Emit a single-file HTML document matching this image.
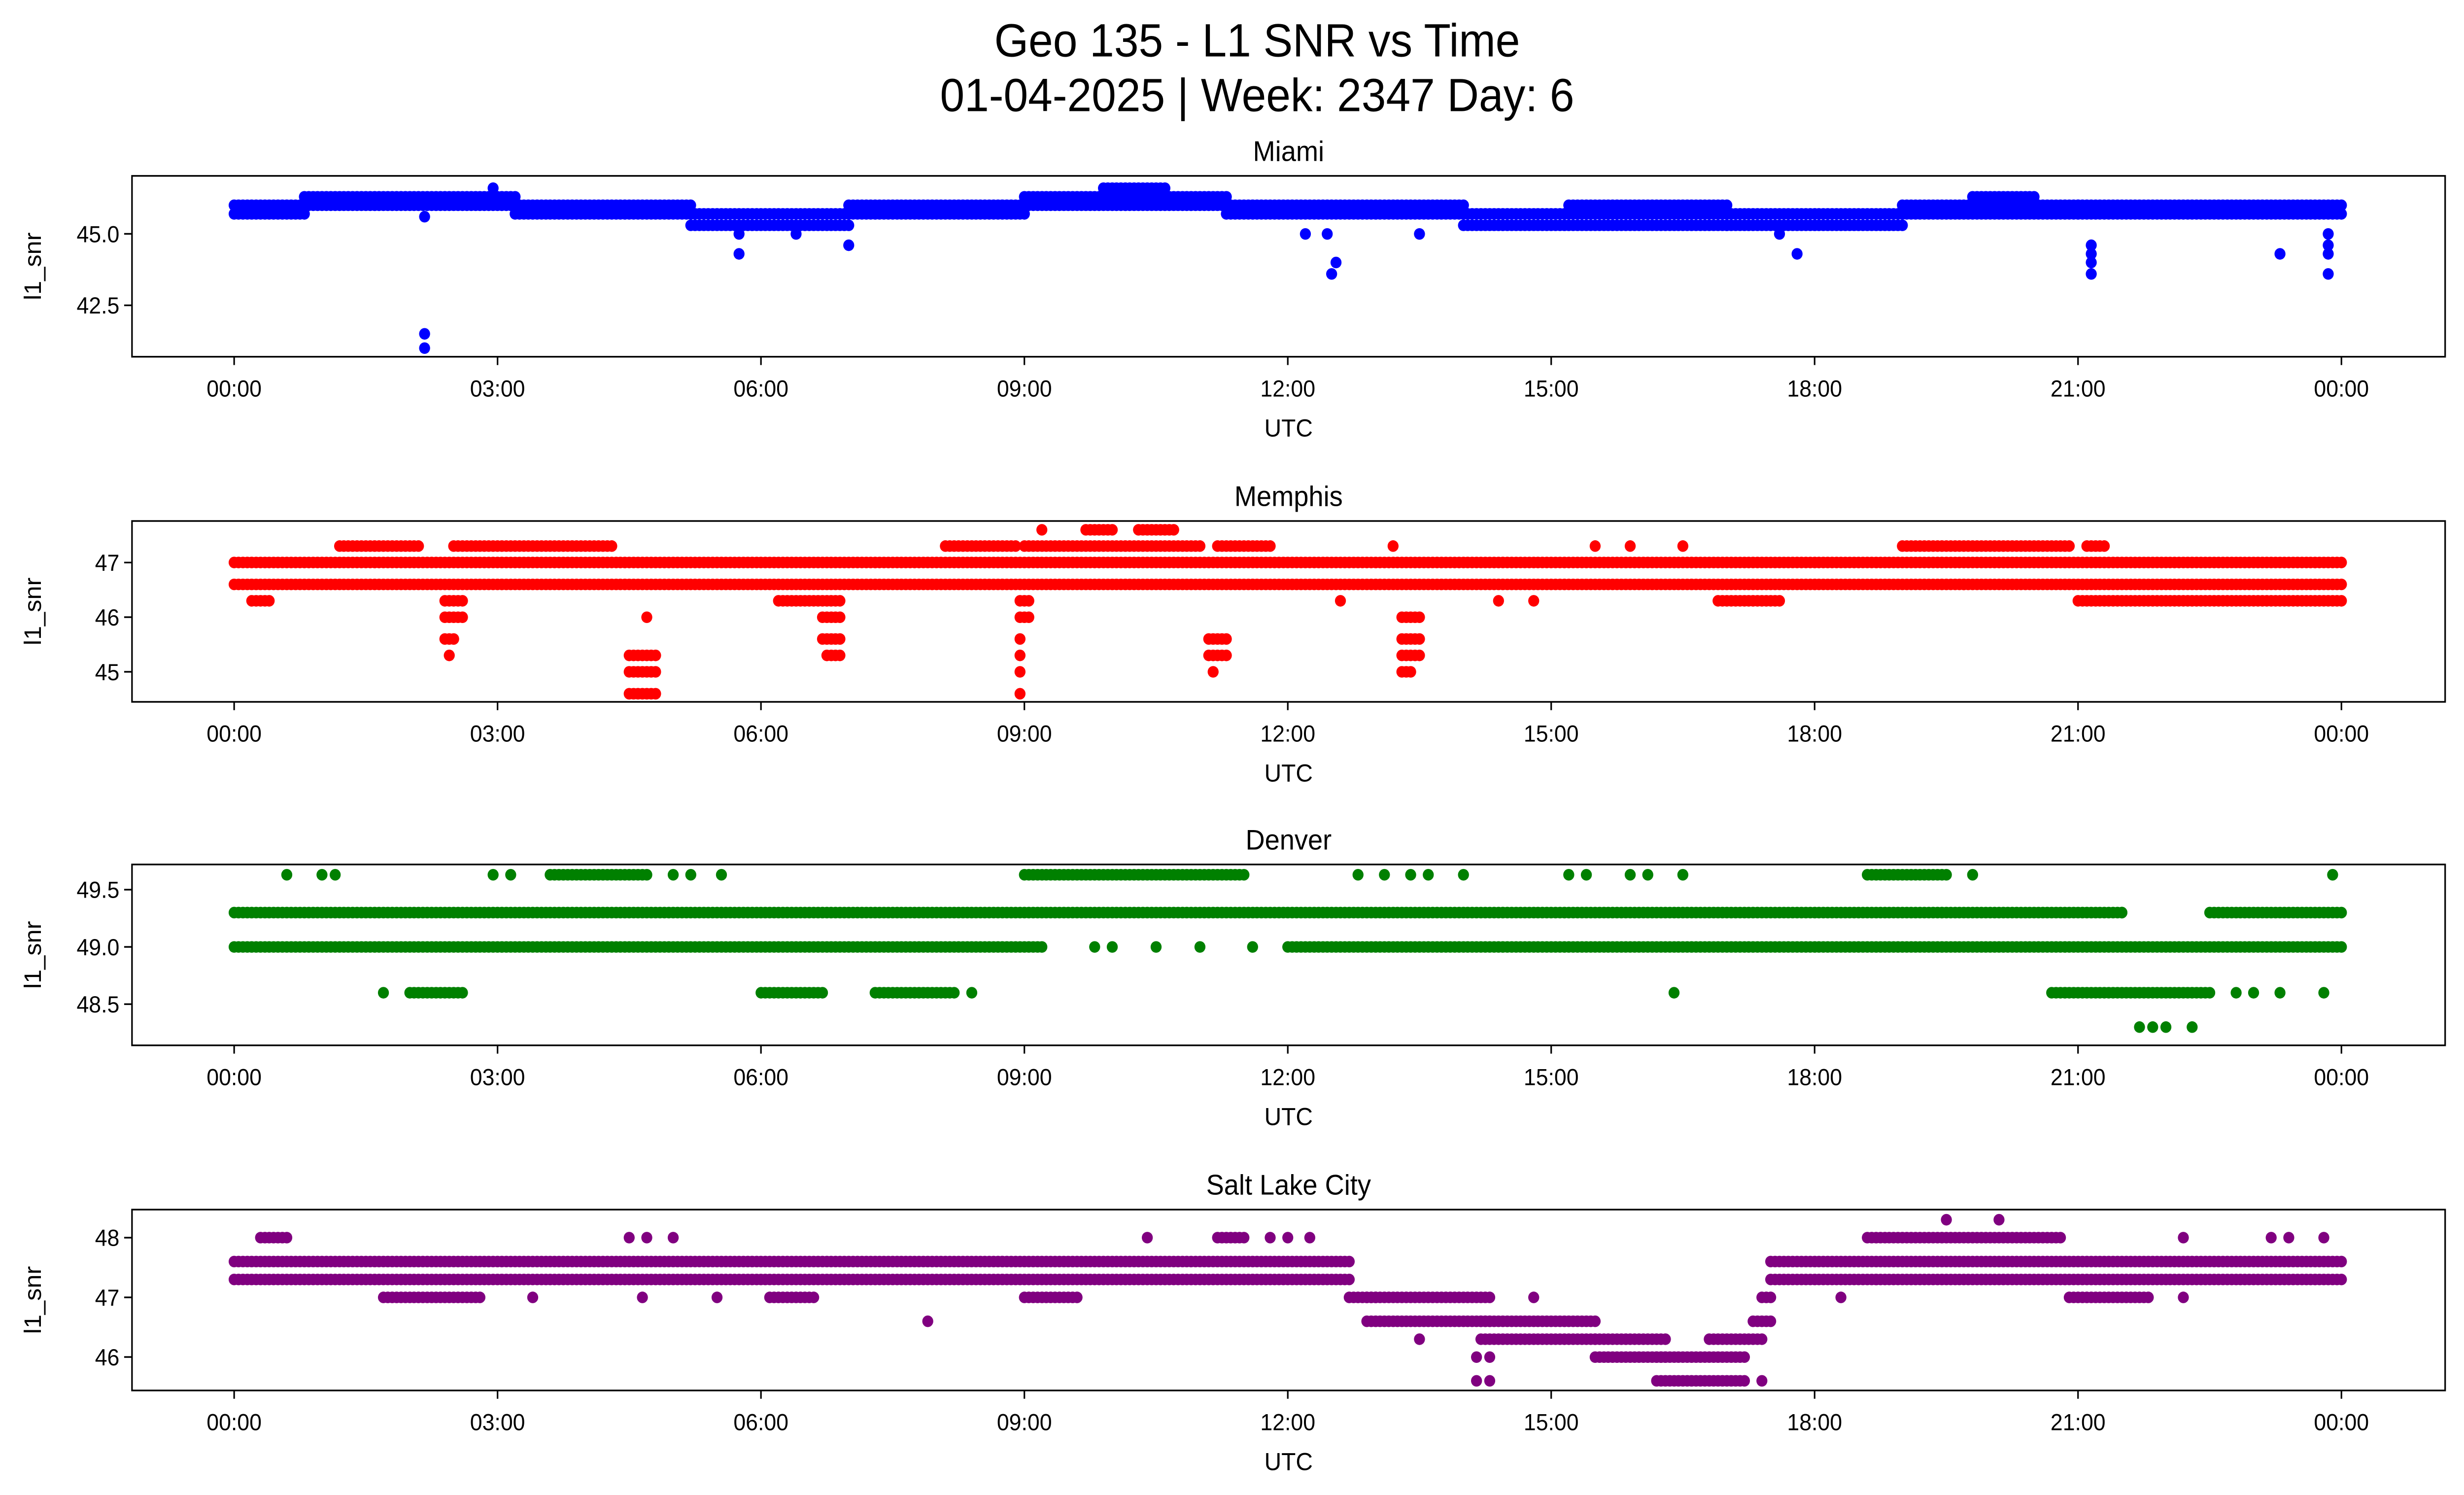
<!DOCTYPE html>
<html><head><meta charset="utf-8"><style>
html,body{margin:0;padding:0;background:#fff;width:100%;height:100%;overflow:hidden}
svg{display:block;position:absolute;left:0;top:0;width:100vw;height:100vh;font-family:"Liberation Sans","DejaVu Sans",sans-serif}
</style></head><body>
<svg id="fig" xmlns="http://www.w3.org/2000/svg" viewBox="0 0 1568 901" preserveAspectRatio="none">
<rect width="1568" height="901" fill="#fff"/>
<text x="800" y="34" font-size="28" text-anchor="middle">Geo 135 - L1 SNR vs Time</text>
<text x="800" y="67" font-size="28" text-anchor="middle">01-04-2025 | Week: 2347 Day: 6</text>
<g id="plots"></g>
</svg>
<script>
// x-axis tick labels (hours)
const xTickHours = [0,3,6,9,12,15,18,21,24];
const xTickLabels = ["00:00","03:00","06:00","09:00","12:00","15:00","18:00","21:00","00:00"];

// Miami: runs [startHour, endHour, snr]
const miamiRuns = [[0,0.8,45.7],[0,0.8,46.0],[0.8,3.2,46.0],[0.8,3.2,46.3],[3.2,5.2,45.7],[3.2,5.2,46.0],[5.2,7.0,45.3],[5.2,7.0,45.7],[7.0,9.0,45.7],[7.0,9.0,46.0],[9.0,11.3,46.0],[9.0,11.3,46.3],[9.9,10.6,46.6],[11.3,14.0,45.7],[11.3,14.0,46.0],[14.0,17.0,45.3],[14.0,17.0,45.7],[15.2,17.0,46.0],[17.0,19.0,45.3],[17.0,19.0,45.7],[19.0,21.0,45.7],[19.0,21.0,46.0],[19.8,20.5,46.3],[21.0,24,45.7],[21.0,24,46.0]];
const miamiPoints = [[2.17,41.5],[2.17,41.0],[2.17,45.6],[2.95,46.6],[5.75,44.3],[5.75,45.0],[6.4,45.0],[7.0,44.6],[12.5,43.6],[12.55,44.0],[12.45,45.0],[12.2,45.0],[13.5,45.0],[17.8,44.3],[17.6,45.0],[21.15,43.6],[21.15,44.0],[21.15,44.3],[21.15,44.6],[23.3,44.3],[23.85,43.6],[23.85,44.3],[23.85,44.6],[23.85,45.0]];

// Memphis
const memphisRuns = [[0,24,47.0],[0,24,46.6],[1.2,2.1,47.3],[2.5,4.3,47.3],[8.1,8.9,47.3],[9.0,11.0,47.3],[11.2,11.8,47.3],[19.0,20.9,47.3],[21.1,21.3,47.3],[9.7,10.0,47.6],[10.3,10.7,47.6],[21.0,24,46.3],[6.2,6.9,46.3],[0.2,0.4,46.3],[16.9,17.6,46.3],[2.4,2.6,46.3],[2.4,2.6,46.0],[2.4,2.5,45.6],[4.5,4.8,45.3],[4.5,4.8,45.0],[4.5,4.8,44.6],[6.7,6.9,46.0],[6.7,6.9,45.6],[6.75,6.9,45.3],[8.95,9.05,46.3],[8.95,9.05,46.0],[11.1,11.3,45.6],[11.1,11.3,45.3],[13.3,13.5,46.0],[13.3,13.5,45.6],[13.3,13.5,45.3],[13.3,13.4,45.0]];
const memphisPoints = [[2.45,45.3],[4.7,46.0],[8.95,45.6],[8.95,45.3],[8.95,45.0],[8.95,44.6],[9.2,47.6],[11.15,45.0],[13.2,47.3],[14.4,46.3],[14.8,46.3],[15.5,47.3],[15.9,47.3],[16.5,47.3],[12.6,46.3],[19.7,46.6]];

// Denver
const denverRuns = [[0,21.5,49.3],[22.5,24,49.3],[0,9.2,49.0],[12.0,24,49.0],[9.0,11.5,49.63],[18.6,19.5,49.63],[2.0,2.6,48.6],[6.0,6.7,48.6],[7.3,8.2,48.6],[20.7,22.5,48.6],[3.6,4.7,49.63]];
const denverPoints = [[0.6,49.63],[1.0,49.63],[1.15,49.63],[2.95,49.63],[3.15,49.63],[5.0,49.63],[5.2,49.63],[5.55,49.63],[12.8,49.63],[13.1,49.63],[13.4,49.63],[13.6,49.63],[14.0,49.63],[15.2,49.63],[15.4,49.63],[15.9,49.63],[16.1,49.63],[16.5,49.63],[19.8,49.63],[23.9,49.63],[1.7,48.6],[8.4,48.6],[16.4,48.6],[22.8,48.6],[23.0,48.6],[23.3,48.6],[23.8,48.6],[9.8,49.0],[10.0,49.0],[10.5,49.0],[11.0,49.0],[11.6,49.0],[21.7,48.3],[21.85,48.3],[22.0,48.3],[22.3,48.3],[21.5,49.3]];

// Salt Lake City
const slcRuns = [[0,12.7,47.6],[0,12.7,47.3],[1.7,2.8,47.0],[9.0,9.6,47.0],[12.7,13.0,47.0],[12.9,14.3,47.0],[12.9,14.3,46.6],[14.2,15.5,46.6],[14.2,15.5,46.3],[15.5,16.3,46.3],[15.5,16.3,46.0],[16.2,17.2,46.0],[16.2,17.2,45.6],[16.8,17.4,46.3],[17.3,17.5,46.6],[17.4,17.5,47.0],[17.5,24,47.6],[17.5,18.7,47.3],[18.6,20.8,48.0],[18.7,24,47.3],[0.3,0.6,48.0],[11.2,11.5,48.0],[6.1,6.6,47.0],[20.9,21.8,47.0]];
const slcPoints = [[4.5,48.0],[4.7,48.0],[5.0,48.0],[10.4,48.0],[11.8,48.0],[12.0,48.0],[12.25,48.0],[19.5,48.3],[20.1,48.3],[22.2,48.0],[23.2,48.0],[23.4,48.0],[23.8,48.0],[3.4,47.0],[4.65,47.0],[5.5,47.0],[7.9,46.6],[13.5,46.3],[14.15,46.0],[14.15,45.6],[14.3,45.6],[14.3,46.0],[14.8,47.0],[17.4,45.6],[22.2,47.0],[18.3,47.0]];

const panels = [
 {name:"Miami", color:"#0000ff", runs:miamiRuns, points:miamiPoints, top:106, bottom:215, vTop:47.03, vBot:40.70, ticks:[42.5,45.0], tickLabels:["42.5","45.0"]},
 {name:"Memphis", color:"#ff0000", runs:memphisRuns, points:memphisPoints, top:314, bottom:423, vTop:47.76, vBot:44.45, ticks:[45,46,47], tickLabels:["45","46","47"]},
 {name:"Denver", color:"#008000", runs:denverRuns, points:denverPoints, top:521, bottom:630, vTop:49.72, vBot:48.14, ticks:[48.5,49.0,49.5], tickLabels:["48.5","49.0","49.5"]},
 {name:"Salt Lake City", color:"#800080", runs:slcRuns, points:slcPoints, top:729, bottom:838, vTop:48.47, vBot:45.44, ticks:[46,47,48], tickLabels:["46","47","48"]}
];
const NS="http://www.w3.org/2000/svg";
const root=document.getElementById("plots");
const X0=149, PXH=(1490-149)/24, L=84, R=1556;
function xs(h){return X0+h*PXH;}
function mk(tag,attrs,parent){const e=document.createElementNS(NS,tag);for(const k in attrs)e.setAttribute(k,attrs[k]);parent.appendChild(e);return e;}
panels.forEach(p=>{
  const slug=p.name.toLowerCase().replace(/ /g,'-');
  const g=mk("g",{},root);
  
  
  const ys=v=>p.top+(p.vTop-v)/(p.vTop-p.vBot)*(p.bottom-p.top);
  const t=mk("text",{x:(L+R)/2,y:p.top-9,"font-size":17,"text-anchor":"middle"},g);
  t.textContent=p.name;
  
  
  const pts=mk("g",{fill:p.color},g);
  
  
  p.runs.forEach(r=>{for(let h=r[0];h<=r[1]+1e-9;h+=0.05){mk("circle",{cx:xs(h).toFixed(1),cy:ys(r[2]).toFixed(1),r:3.5},pts);}});
  p.points.forEach(q=>{mk("circle",{cx:xs(q[0]).toFixed(1),cy:ys(q[1]).toFixed(1),r:3.5},pts);});
  const box=mk("rect",{x:L,y:p.top,width:R-L,height:p.bottom-p.top,fill:"none",stroke:"#000","stroke-width":1},g);
  
  
  xTickHours.forEach((h,i)=>{
    mk("line",{x1:xs(h),x2:xs(h),y1:p.bottom,y2:p.bottom+5,stroke:"#000"},g);
    const tl=mk("text",{x:xs(h),y:p.bottom+24,"font-size":14,"text-anchor":"middle"},g);
    tl.textContent=xTickLabels[i];
    
    
  });
  p.ticks.forEach((v,i)=>{
    mk("line",{x1:L-5,x2:L,y1:ys(v),y2:ys(v),stroke:"#000"},g);
    const tl=mk("text",{x:L-8,y:ys(v)+5,"font-size":14,"text-anchor":"end"},g);
    tl.textContent=p.tickLabels[i];
    
    
  });
  const xl=mk("text",{x:(L+R)/2,y:p.bottom+48,"font-size":15,"text-anchor":"middle"},g);
  xl.textContent="UTC";
  
  
  const yc=(p.top+p.bottom)/2;
  const yl=mk("text",{x:26,y:yc,"font-size":15,"text-anchor":"middle",transform:`rotate(-90 26 ${yc})`},g);
  yl.textContent="l1_snr";
  
  
});
</script>
</body></html>
